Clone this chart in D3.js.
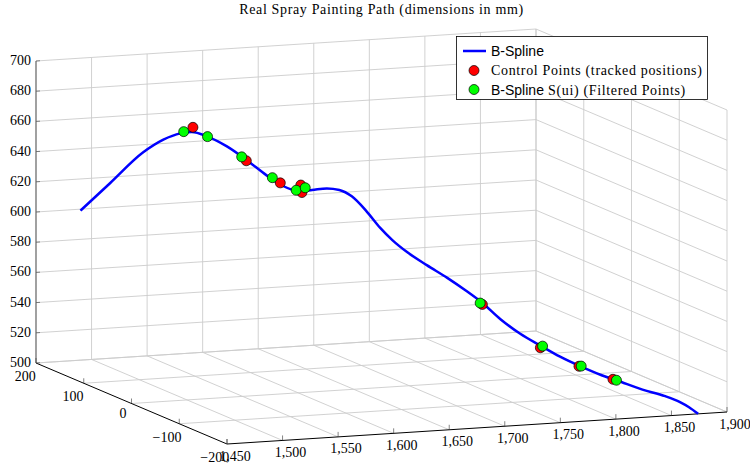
<!DOCTYPE html>
<html>
<head>
<meta charset="utf-8">
<script src="https://cdnjs.cloudflare.com/ajax/libs/d3/7.8.5/d3.min.js"></script>
<style>
  body { margin: 0; background: #fff; }
  svg { display: block; }
</style>
</head>
<body>
<svg id="chart" width="750" height="470"></svg>
<script>
// Axis ticks (mm)
const xTicks = [1450, 1500, 1550, 1600, 1650, 1700, 1750, 1800, 1850, 1900];
const yTicks = [-200, -100, 0, 100, 200];
const zTicks = [500, 520, 540, 560, 580, 600, 620, 640, 660, 680, 700];

// B-spline path samples
const pathX = [1490, 1508, 1529, 1541, 1552, 1558, 1570, 1581, 1593, 1606, 1616, 1625, 1634, 1643, 1650, 1659, 1668, 1676, 1685, 1694, 1705, 1717, 1730, 1740, 1752, 1763, 1776, 1788, 1800, 1814, 1822, 1839, 1853, 1862, 1868, 1874];
const pathY = [200, 180, 160, 145, 135, 125, 120, 105, 90, 80, 70, 55, 50, 40, 30, 25, 15, 5, 0, -10, -25, -40, -50, -60, -70, -85, -100, -110, -125, -135, -150, -165, -180, -190, -195, -200];
const pathZ = [599, 619, 641, 651, 656, 658, 655, 650, 642, 633, 627, 625, 626, 628, 628, 624, 615, 605, 597, 590, 583, 576, 568, 561, 551, 543, 536, 530, 525, 520, 518, 513, 510, 507, 504, 500];

// Control points (tracked positions)
const ctrlX = [1559, 1592, 1614, 1626, 1627, 1740, 1775, 1799, 1821];
const ctrlY = [125, 90, 70, 55, 55, -60, -100, -125, -145];
const ctrlZ = [661, 642, 629, 629, 624, 560, 535, 525, 518];

// Filtered points S(ui) on the spline
const filtX = [1555, 1570, 1590, 1609, 1624, 1630, 1738, 1777, 1801, 1822];
const filtY = [135, 120, 95, 75, 60, 55, -60, -100, -125, -150];
const filtZ = [657, 655, 644, 632, 625, 627, 561, 536, 525, 518];

const titleText = "Real Spray Painting Path (dimensions in mm)";

const svg = d3.select("#chart");
const serif = "'Liberation Serif', 'Times New Roman', serif";
const sans = "'Liberation Sans', Arial, sans-serif";

// Normalised axis scales, combined into an orthographic projection
const sx = d3.scaleLinear().domain([1450, 1900]).range([0, 1]);
const sy = d3.scaleLinear().domain([-200, 200]).range([0, 1]);
const sz = d3.scaleLinear().domain([500, 700]).range([0, 1]);
const origin = [227, 444];
const ex = [500, -32], ey = [-191, -81], ez = [0, -302];
function proj(x, y, z) {
  const a = sx(x), b = sy(y), c = sz(z);
  return [origin[0] + a * ex[0] + b * ey[0] + c * ez[0],
          origin[1] + a * ex[1] + b * ey[1] + c * ez[1]];
}
const [x0, x1] = sx.domain(), [y0, y1] = sy.domain(), [z0, z1] = sz.domain();

// Grid on the three back planes
const grid = svg.append("g").attr("stroke", "#cccccc").attr("stroke-width", 0.9).attr("fill", "none");
const segs = [];
xTicks.forEach(x => { segs.push([[x, y1, z0], [x, y1, z1]]); if (x !== x0) segs.push([[x, y0, z0], [x, y1, z0]]); });
zTicks.forEach(z => { segs.push([[x0, y1, z], [x1, y1, z]]); segs.push([[x1, y0, z], [x1, y1, z]]); });
yTicks.forEach(y => { segs.push([[x1, y, z0], [x1, y, z1]]); if (y !== y0) segs.push([[x0, y, z0], [x1, y, z0]]); });
segs.forEach(([p, q]) => {
  const a = proj(...p), b = proj(...q);
  grid.append("line").attr("x1", a[0]).attr("y1", a[1]).attr("x2", b[0]).attr("y2", b[1]);
});

// Axis lines
const axes = svg.append("g").attr("fill", "none");
function seg(g, p, q, color, w) {
  const a = proj(...p), b = proj(...q);
  g.append("line").attr("x1", a[0]).attr("y1", a[1]).attr("x2", b[0]).attr("y2", b[1])
    .attr("stroke", color).attr("stroke-width", w);
}
seg(axes, [x0, y1, z0], [x0, y1, z1], "#7a7a7a", 1.3);
seg(axes, [x0, y0, z0], [x1, y0, z0], "#000", 1);
seg(axes, [x0, y1, z0], [x0, y0, z0], "#000", 1);

// Tick marks
xTicks.forEach(x => { const p = proj(x, y0, z0); axes.append("line").attr("x1", p[0]).attr("y1", p[1]).attr("x2", p[0]).attr("y2", p[1] - 5).attr("stroke", "#333").attr("stroke-width", 0.6); });
yTicks.forEach(y => { const p = proj(x0, y, z0); axes.append("line").attr("x1", p[0]).attr("y1", p[1]).attr("x2", p[0]).attr("y2", p[1] - 5).attr("stroke", "#333").attr("stroke-width", 0.6); });
zTicks.forEach(z => { const p = proj(x0, y1, z); axes.append("line").attr("x1", p[0]).attr("y1", p[1]).attr("x2", p[0] + 4).attr("y2", p[1] - 0.25).attr("stroke", "#555").attr("stroke-width", 0.7); });

// Tick labels
const labels = svg.append("g").attr("font-family", serif).attr("font-size", 14).attr("fill", "#000");
const fmtX = d3.format(",");
const fmtY = d3.format("d");
xTicks.forEach(x => {
  const p = proj(x, y0, z0);
  labels.append("text").attr("x", p[0] + 8).attr("y", p[1] + 12).attr("text-anchor", "middle")
    .attr("dominant-baseline", "central").text(fmtX(x));
});
yTicks.forEach(y => {
  const p = proj(x0, y, z0);
  const t = labels.append("text").attr("text-anchor", "middle").attr("dominant-baseline", "central").text(fmtY(y));
  const w = t.node().getComputedTextLength();
  t.attr("x", p[0] - 7.3 - 0.17 * w).attr("y", p[1] + Math.min(13.5, 8 + 0.25 * w));
});
zTicks.forEach(z => {
  const p = proj(x0, y1, z);
  labels.append("text").attr("x", p[0] - 5).attr("y", p[1] - 0.5).attr("text-anchor", "end")
    .attr("dominant-baseline", "central").text(z);
});

// B-spline curve
const pathPts = pathX.map((x, i) => proj(x, pathY[i], pathZ[i]));
svg.append("path").attr("d", d3.line().curve(d3.curveMonotoneX)(pathPts))
  .attr("fill", "none").attr("stroke", "#0000ff").attr("stroke-width", 2.5)
  .attr("stroke-linejoin", "round").attr("stroke-linecap", "butt");

// Point sets
function dots(xs, ys, zs, color) {
  svg.append("g").selectAll("circle").data(xs.map((x, i) => proj(x, ys[i], zs[i]))).join("circle")
    .attr("cx", d => d[0]).attr("cy", d => d[1]).attr("r", 5)
    .attr("fill", color).attr("stroke", "#000").attr("stroke-width", 0.7);
}
dots(ctrlX, ctrlY, ctrlZ, "#ff0000");
dots(filtX, filtY, filtZ, "#00ff00");

// Title
svg.append("text").attr("x", 381.5).attr("y", 14).attr("text-anchor", "middle")
  .attr("font-family", serif).attr("font-size", 14).attr("letter-spacing", 0.65).text(titleText);

// Legend
const lg = svg.append("g");
lg.append("rect").attr("x", 456.5).attr("y", 36.5).attr("width", 251).attr("height", 63)
  .attr("fill", "#fff").attr("stroke", "#000").attr("stroke-width", 0.8);
lg.append("line").attr("x1", 463).attr("y1", 51).attr("x2", 486).attr("y2", 51)
  .attr("stroke", "#0000ff").attr("stroke-width", 2.5);
lg.append("text").attr("x", 491).attr("y", 51).attr("dominant-baseline", "central")
  .attr("font-family", sans).attr("font-size", 14).text("B-Spline");
lg.append("circle").attr("cx", 474).attr("cy", 70.5).attr("r", 5).attr("fill", "#ff0000").attr("stroke", "#000").attr("stroke-width", 0.7);
lg.append("text").attr("x", 491).attr("y", 70.5).attr("dominant-baseline", "central")
  .attr("font-family", serif).attr("font-size", 14).attr("letter-spacing", 0.65)
  .text("Control Points (tracked positions)");
lg.append("circle").attr("cx", 474).attr("cy", 89.5).attr("r", 5).attr("fill", "#00ff00").attr("stroke", "#000").attr("stroke-width", 0.7);
const t3 = lg.append("text").attr("x", 491).attr("y", 89.5).attr("dominant-baseline", "central").attr("font-size", 14);
t3.append("tspan").attr("font-family", sans).text("B-Spline");
t3.append("tspan").attr("font-family", serif).attr("letter-spacing", 0.65).text(" S(ui) (Filtered Points)");
</script>
</body>
</html>
